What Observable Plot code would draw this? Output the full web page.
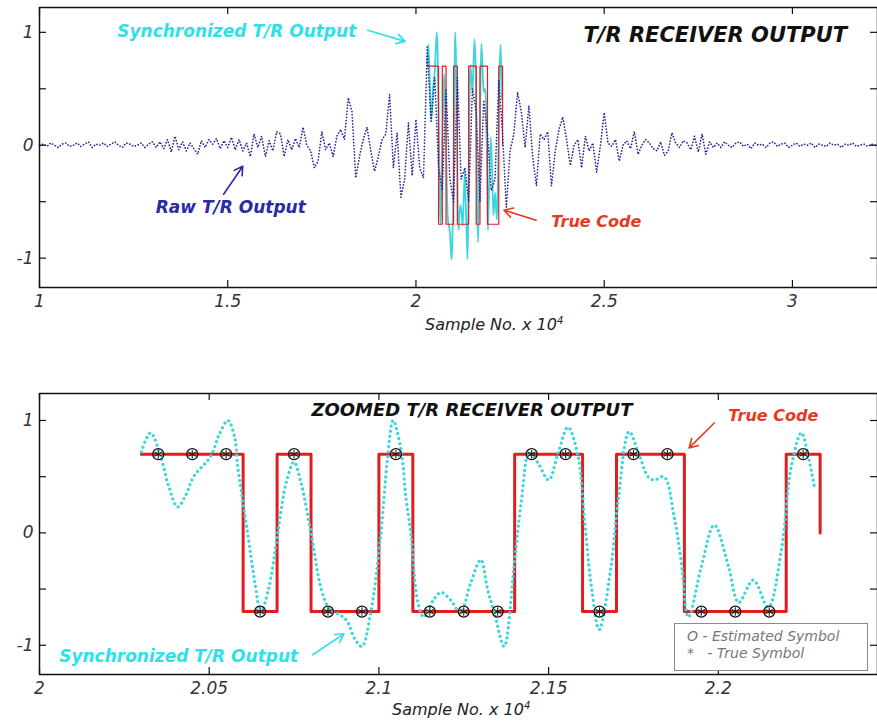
<!DOCTYPE html>
<html><head><meta charset="utf-8">
<script src="https://cdn.jsdelivr.net/npm/d3@7"></script>
<script src="https://cdn.jsdelivr.net/npm/@observablehq/plot@0.6"></script>
<style>
body{margin:0;background:#fff;}
#wrap{position:relative;width:877px;height:723px;overflow:hidden;background:#fff;}
#top{position:absolute;left:0;top:0;}
#bot{position:absolute;left:0;top:345px;}
.xl{position:absolute;font-family:"DejaVu Sans";font-style:italic;font-size:16px;color:#222;white-space:nowrap;}
.xl sup{font-size:10px;}
.legend{position:absolute;left:674px;top:623px;width:194px;height:48px;border:1px solid #8a8a8a;background:#fff;font-family:"DejaVu Sans";font-style:italic;font-size:14px;color:#777;box-sizing:border-box;padding:4px 0 0 12px;line-height:17px;white-space:pre;}
</style></head>
<body><div id="wrap">
<div id="top"></div>
<div id="bot"></div>
<div class="xl" style="left:425px;top:315px;">Sample No. x 10<sup>4</sup></div>
<div class="xl" style="left:392px;top:700px;">Sample No. x 10<sup>4</sup></div>
<div class="legend">O - Estimated Symbol
*   - True Symbol</div>
</div>
<script>
// ---- Raw T/R output (sample No. x 1e4), one value every 0.01 from 1.00 to 3.22
const rawStart = 1.00;
const rawStep = 0.01;
const rawValues = [
  0, 0.01, -0.01, 0.02, 0, -0.02, 0.01, 0.02, -0.01, 0, 0.02, -0.01, 0.01, 0.03, -0.02, 0.01, 0, 0.02, -0.01, 0.01, 0.03, 0, -0.02, 0.02, 0.01, -0.01, 0, 0.02, -0.02, 0.01, 0.03,
  -0.02, 0.03, -0.03, 0.05, -0.06, 0.08, -0.04, 0.03, -0.05, 0.02, -0.03, -0.08, 0.04, -0.02, 0.05, 0.01, 0.06, -0.03, 0.04, -0.02, 0.07, -0.04, 0.05, -0.05, 0.02,
  -0.1, 0.1, -0.02, 0.08, -0.1, 0.04, -0.05, 0.12, 0.1, -0.1, 0.05, -0.04, 0.06, -0.02, 0.16,
  0.0, -0.05, -0.2, -0.14, 0.12, -0.04, 0.02, -0.1, 0.08, 0.14,
  0.05, 0.42, 0.3, -0.29, -0.1, 0.05, 0.16, -0.05, -0.23, -0.1,
  0.05, 0.1, 0.45, -0.2, 0.11, -0.46, -0.3, 0.2, -0.27, 0.23, -0.2, -0.29,
  0.87, 0.2, 0.6, -0.2, -0.4, 0.5, -0.3, -0.5, 0.6, -0.3, -0.2, -0.5, 0.5, 0.3, -0.5, 0.4, 0.1, -0.4, -0.3, 0.58, 0.1, -0.55,
  -0.05, 0.1, 0.47, 0.29, -0.02, 0.35, -0.1, -0.36, 0.1, 0.05, 0.12, -0.36, -0.05, 0.14, 0.25, 0.05, -0.18, 0.0, 0.05, -0.2, 0.08, -0.05, 0.02, -0.24, 0.0, 0.29, 0.02, -0.01, 0.05, -0.14, 0.0, 0.04, -0.03, 0.12, -0.08, 0.0, 0.05, 0.02, -0.03, -0.05, 0.03, -0.09, -0.05, 0.11, 0.02, -0.02, 0.04, 0.02,
  -0.04, 0.08, -0.06, 0.1, -0.08, 0.03, -0.02, 0.02,
  -0.02, 0.03, 0, -0.02, 0.02, 0.03, -0.01, 0.01, -0.03, 0.02, 0, 0.01, -0.02, 0.02, 0.03, -0.01, 0.01, 0.02, -0.02, 0, 0.02, -0.01, 0.01, 0, 0.02, -0.02, 0.01, 0, -0.01, 0.02, 0, 0.01, -0.02, 0.01, 0, 0.02, -0.01, 0, 0.01, -0.01, 0.01, 0
];

// ---- Synchronized T/R output
const syncX = [2.0300,2.0327,2.0357,2.0380,2.0407,2.0430,2.0454,2.0504,2.0530,2.0555,2.0575,2.0584,2.0613,2.0635,2.0652,2.0675,2.0702,2.0727,2.0750,2.0770,2.0800,2.0830,2.0855,2.0880,2.0905,2.0930,2.0950,2.0976,2.1006,2.1025,2.1042,2.1065,2.1080,2.1094,2.1115,2.1133,2.1160,2.1183,2.1212,2.1240,2.1270,2.1300,2.1320,2.1340,2.1369,2.1398,2.1420,2.1443,2.1469,2.1500,2.1528,2.1557,2.1587,2.1605,2.1625,2.1649,2.1684,2.1705,2.1737,2.1765,2.1793,2.1811,2.1840,2.1870,2.1890,2.1912,2.1950,2.1988,2.2030,2.2060,2.2103,2.2147,2.2186,2.2215,2.2245,2.2265,2.2283];
const syncY = [0.72,0.89,0.68,0.42,0.23,0.33,0.50,0.68,0.88,1.00,0.85,0.59,0.0,-0.45,-0.70,-0.50,0.0,0.45,0.63,0.45,0.0,-0.5,-0.68,-0.72,-0.78,-0.95,-1.01,-0.71,0.0,0.65,1.0,0.74,0.3,0.0,-0.62,-0.75,-0.6,-0.53,-0.6,-0.71,-0.45,-0.24,-0.5,-0.71,-1.01,-0.3,0.29,0.71,0.62,0.47,0.71,0.94,0.68,0.14,-0.45,-0.86,-0.3,0.29,0.9,0.71,0.5,0.47,0.5,0.14,-0.24,-0.75,-0.3,0.07,-0.3,-0.62,-0.42,-0.66,-0.15,0.59,0.89,0.68,0.41];

// ---- True code
const codeEdges = [2.03,2.04,2.05,2.06,2.07,2.08,2.09,2.10,2.11,2.12,2.13,2.14,2.15,2.16,2.17,2.18,2.19,2.20,2.21,2.22,2.23];
const symbolX = [2.035,2.045,2.055,2.065,2.075,2.085,2.095,2.105,2.115,2.125,2.135,2.145,2.155,2.165,2.175,2.185,2.195,2.205,2.215,2.225];
const symbolLevel = [0.7,0.7,0.7,-0.7,0.7,-0.7,-0.7,0.7,-0.7,-0.7,-0.7,0.7,0.7,-0.7,0.7,0.7,-0.7,-0.7,-0.7,0.7];

// ---- ticks
const topXTicks = [1, 1.5, 2, 2.5, 3];
const botXTicks = [2, 2.05, 2.1, 2.15, 2.2];
const yTicks = [-1, -0.5, 0, 0.5, 1];
const yTickLabels = [-1, 0, 1];

// ---- annotations
const topTitle = [{x: 2.795, y: 0.975, text: "T/R RECEIVER OUTPUT"}];
const topNotes = [
  {x: 1.524, y: 1.005, text: "Synchronized T/R Output", color: "#2fe0e8"},
  {x: 1.508, y: -0.55, text: "Raw T/R Output", color: "#2a2aa8"},
  {x: 2.479, y: -0.68, text: "True Code", color: "#e8391f"}
];
const topArrows = [
  {x1: 1.872, y1: 1.018, x2: 1.971, y2: 0.92, color: "#2fe0e8"},
  {x1: 1.489, y1: -0.434, x2: 1.54, y2: -0.186, color: "#2a2aa8"},
  {x1: 2.319, y1: -0.664, x2: 2.234, y2: -0.575, color: "#e8391f"}
];
const botTitle = [{x: 2.1274, y: 1.09, text: "ZOOMED T/R RECEIVER OUTPUT"}];
const botNotes = [
  {x: 2.041, y: -1.10, text: "Synchronized T/R Output", color: "#2fe0e8"},
  {x: 2.2162, y: 1.04, text: "True Code", color: "#e8391f"}
];
const botArrows = [
  {x1: 2.0805, y1: -1.084, x2: 2.0897, y2: -0.898, color: "#2fe0e8"},
  {x1: 2.1988, y1: 0.978, x2: 2.1914, y2: 0.756, color: "#e8391f"}
];

// ---- build tables
const raw = rawValues.map((v, i) => ({x: +(rawStart + i * rawStep).toFixed(2), y: v}));
const sync = syncX.map((x, i) => ({x, y: syncY[i]}));
const code = codeEdges.map((x, i) => ({x, y: symbolLevel[Math.min(i, symbolLevel.length - 1)]}));
code.push({x: codeEdges[codeEdges.length - 1], y: 0});
const symbols = symbolX.map((x, i) => ({x, y: symbolLevel[i]}));

const FONT = "DejaVu Sans";
const CYAN = "#3dd6dc";
const RED = "#e01e1e";
const NAVY = "#26269a";

function frameTicks(xt, yt, H, W, len) {
  return [
    Plot.tickX(xt, {x: d => d, insetTop: H - len, stroke: "#111", strokeWidth: 1.2}),
    Plot.tickX(xt, {x: d => d, insetBottom: H - len, stroke: "#111", strokeWidth: 1.2}),
    Plot.tickY(yt, {y: d => d, insetRight: W - len, stroke: "#111", strokeWidth: 1.2}),
    Plot.tickY(yt, {y: d => d, insetLeft: W - len, stroke: "#111", strokeWidth: 1.2})
  ];
}
function axes(xt) {
  return [
    Plot.axisX(xt, {tickSize: 0, tickPadding: 7, fontSize: 17, fontStyle: "italic", fontFamily: FONT, fill: "#333", tickFormat: d => String(d), label: null}),
    Plot.axisY(yTickLabels, {tickSize: 0, tickPadding: 6, fontSize: 17, fontStyle: "italic", fontFamily: FONT, fill: "#333", tickFormat: d => String(d), label: null})
  ];
}
function notes(list, size) {
  return list.map(d => Plot.text([d], {x: "x", y: "y", text: "text", fill: d.color, fontSize: d.text === "True Code" ? size - 1 : size, fontWeight: "bold", fontStyle: "italic", fontFamily: FONT}));
}
function arrows(list) {
  return list.map(d => Plot.arrow([d], {x1: "x1", y1: "y1", x2: "x2", y2: "y2", stroke: d.color, strokeWidth: 1.6, headLength: 9}));
}

const topH = 345, topMT = 7, topMB = 58;
const topPlot = Plot.plot({
  width: 877, height: topH,
  marginLeft: 39, marginRight: 0, marginTop: topMT, marginBottom: topMB,
  x: {domain: [1, 3.226]},
  y: {domain: [-1.26, 1.22]},
  style: {background: "transparent", overflow: "visible"},
  marks: [
    Plot.line(sync, {x: "x", y: "y", stroke: CYAN, strokeWidth: 1.8, curve: "catmull-rom"}),
    Plot.line(code, {x: "x", y: "y", stroke: RED, strokeWidth: 1.2, curve: "step-after"}),
    Plot.line(raw, {x: "x", y: "y", stroke: NAVY, strokeWidth: 1.7, strokeDasharray: "0.1,3", strokeLinecap: "round"}),
    ...frameTicks(topXTicks, yTicks, topH - topMT - topMB, 877 - 39, 7),
    Plot.frame({stroke: "#111", strokeWidth: 1.5}),
    ...axes(topXTicks),
    Plot.text(topTitle, {x: "x", y: "y", text: "text", fill: "#111", fontSize: 21, fontWeight: "bold", fontStyle: "italic", fontFamily: FONT}),
    ...notes(topNotes, 17),
    ...arrows(topArrows)
  ]
});
document.getElementById("top").appendChild(topPlot);

const botH = 378, botMT = 48, botMB = 49;
const botPlot = Plot.plot({
  width: 877, height: botH,
  marginLeft: 39, marginRight: 0, marginTop: botMT, marginBottom: botMB,
  x: {domain: [2, 2.2469]},
  y: {domain: [-1.26, 1.24]},
  style: {background: "transparent", overflow: "visible"},
  marks: [
    Plot.line(code, {x: "x", y: "y", stroke: RED, strokeWidth: 3, curve: "step-after"}),
    Plot.line(sync, {x: "x", y: "y", stroke: CYAN, strokeWidth: 3.2, strokeDasharray: "0.1,5", strokeLinecap: "round", curve: "catmull-rom"}),
    Plot.dot(symbols, {x: "x", y: "y", r: 5.5, stroke: "#111", strokeWidth: 1.3, fill: "none"}),
    Plot.dot(symbols, {x: "x", y: "y", r: 4, symbol: "asterisk", stroke: "#222", strokeWidth: 1.1}),
    ...frameTicks(botXTicks, yTicks, botH - botMT - botMB, 877 - 39, 7),
    Plot.frame({stroke: "#111", strokeWidth: 1.5}),
    ...axes(botXTicks),
    Plot.text(botTitle, {x: "x", y: "y", text: "text", fill: "#111", fontSize: 18, fontWeight: "bold", fontStyle: "italic", fontFamily: FONT}),
    ...notes(botNotes, 17),
    ...arrows(botArrows)
  ]
});
document.getElementById("bot").appendChild(botPlot);
</script>
</body></html>
